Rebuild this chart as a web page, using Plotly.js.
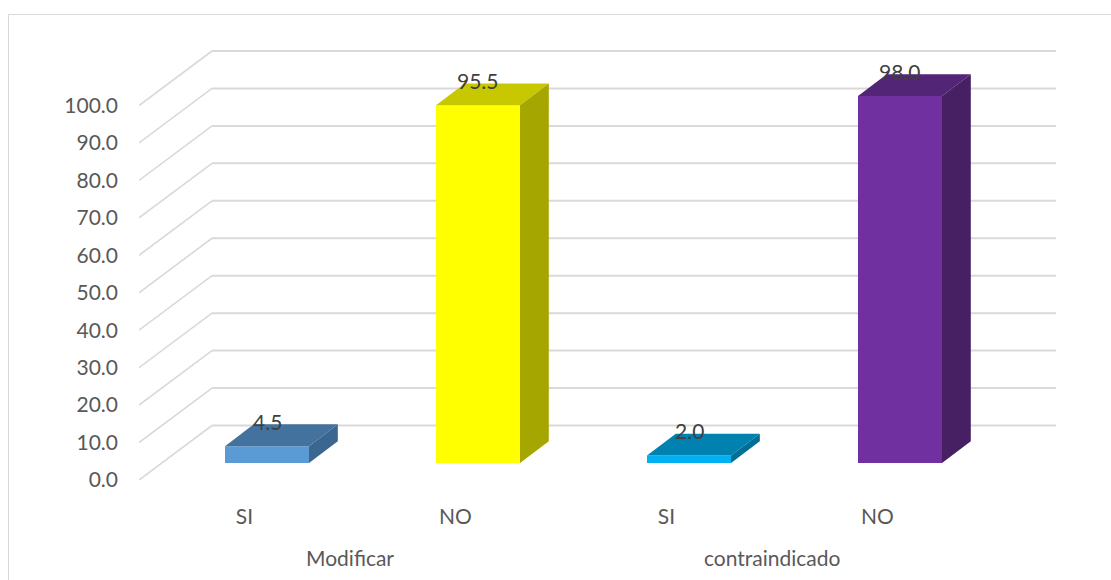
<!DOCTYPE html>
<html>
<head>
<meta charset="utf-8">
<script src="https://cdn.plot.ly/plotly-3.0.1.min.js"></script>
<style>
  html, body { margin: 0; padding: 0; background: #ffffff; }
  #chart { width: 1111px; height: 580px; }
</style>
</head>
<body>
<div id="chart"></div>
<script>
// Survey answers per question group
const groups = ['Modificar', 'contraindicado'];
const answers = ['SI', 'NO', 'SI', 'NO'];
const values = [4.5, 95.5, 2.0, 98.0];
const yTicks = [0, 10, 20, 30, 40, 50, 60, 70, 80, 90, 100];

// Face colours of each bar (front, top, right side)
const frontColors = ['#5B9BD5', '#FFFF00', '#00B0F0', '#7030A0'];
const topColors = ['#43729F', '#C8C800', '#0081AF', '#532577'];
const sideColors = ['#3A6690', '#A6A600', '#006F96', '#471F63'];

// Plot geometry (pixels) and the oblique projection used for the 3-D look
const W = 1111, H = 580;
const M = { l: 139, r: 51, t: 38, b: 100 };
const PX_CAT = 211;          // pixels per category on the front plane
const PX_UNIT = 3.745;       // pixels per value unit
const plotW = W - M.l - M.r, plotH = H - M.t - M.b;
const xRange = [-0.5, -0.5 + plotW / PX_CAT];
const yRange = [0, plotH / PX_UNIT];

// depth of the back wall, of the bar front face and of the bar itself
const wallDX = 73 / PX_CAT, wallDY = 54.5 / PX_UNIT;
const barOffX = 22.5 / PX_CAT, barOffY = 17 / PX_UNIT;
const barDX = 28.8 / PX_CAT, barDY = 21.8 / PX_UNIT;
const barW = 84 / PX_CAT;

const textFont = { family: 'Lato, "Open Sans", sans-serif', size: 21, color: '#595959' };

// wall grid: a diagonal on the side wall plus a horizontal on the back wall
const shapes = [];
yTicks.forEach(v => {
  shapes.push({
    type: 'line', layer: 'below', xref: 'x', yref: 'y',
    x0: -0.5, y0: v, x1: -0.5 + wallDX, y1: v + wallDY,
    line: { color: '#D9D9D9', width: 1.6 }
  });
  shapes.push({
    type: 'line', layer: 'below', xref: 'x', yref: 'y',
    x0: -0.5 + wallDX, y0: v + wallDY, x1: answers.length - 0.5 + wallDX, y1: v + wallDY,
    line: { color: '#D9D9D9', width: 2 }
  });
});
// chart frame
shapes.push({
  type: 'rect', xref: 'paper', yref: 'paper', layer: 'below',
  x0: (8.5 - M.l) / plotW, x1: (W + 20 - M.l) / plotW,
  y0: -(H + 20 - (H - M.b)) / plotH, y1: ((H - M.b) - 14.5) / plotH,
  line: { color: '#D9D9D9', width: 1 }, fillcolor: 'rgba(0,0,0,0)'
});

const traces = [];
const centers = answers.map((_, i) => i + barOffX);

// front faces
traces.push({
  type: 'bar', x: centers, y: values, base: values.map(() => barOffY),
  width: barW, marker: { color: frontColors, line: { width: 0 } },
  hoverinfo: 'skip', showlegend: false
});

// top and right-side faces of each bar
values.forEach((v, i) => {
  const xl = centers[i] - barW / 2, xr = centers[i] + barW / 2;
  const y0 = barOffY, y1 = barOffY + v;
  traces.push({
    type: 'scatter', mode: 'lines', fill: 'toself',
    x: [xl, xr, xr + barDX, xl + barDX, xl],
    y: [y1, y1, y1 + barDY, y1 + barDY, y1],
    fillcolor: topColors[i], line: { width: 0, color: topColors[i] },
    hoverinfo: 'skip', showlegend: false
  });
  traces.push({
    type: 'scatter', mode: 'lines', fill: 'toself',
    x: [xr, xr, xr + barDX, xr + barDX, xr],
    y: [y0, y1, y1 + barDY, y0 + barDY, y0],
    fillcolor: sideColors[i], line: { width: 0, color: sideColors[i] },
    hoverinfo: 'skip', showlegend: false
  });
});

// value labels above each bar and the group names under the answers
const annotations = values.map((v, i) => ({
  xref: 'x', yref: 'y', x: centers[i], y: barOffY + v + barDY,
  text: v.toFixed(1), showarrow: false, yanchor: 'middle', yshift: 3,
  font: Object.assign({}, textFont, { color: '#404040' })
}));
groups.forEach((g, gi) => {
  annotations.push({
    xref: 'x', yref: 'paper', x: gi * 2 + 0.5, y: -(557 - (H - M.b)) / plotH,
    text: g, showarrow: false, yanchor: 'middle', font: textFont
  });
});

const layout = {
  width: W, height: H, margin: M,
  paper_bgcolor: '#FFFFFF', plot_bgcolor: 'rgba(0,0,0,0)',
  showlegend: false,
  xaxis: {
    range: xRange, showgrid: false, zeroline: false, showline: false,
    tickmode: 'array', tickvals: answers.map((_, i) => i), ticktext: answers,
    ticks: '', ticklabelstandoff: 22, tickfont: textFont, fixedrange: true
  },
  yaxis: {
    range: yRange, showgrid: false, zeroline: false, showline: false,
    tickmode: 'array', tickvals: yTicks, ticktext: yTicks.map(t => t.toFixed(1)),
    ticks: '', ticklabelstandoff: 20, tickfont: textFont, fixedrange: true
  },
  shapes: shapes,
  annotations: annotations
};

Plotly.newPlot('chart', traces, layout, { staticPlot: true, displayModeBar: false });
</script>
</body>
</html>
